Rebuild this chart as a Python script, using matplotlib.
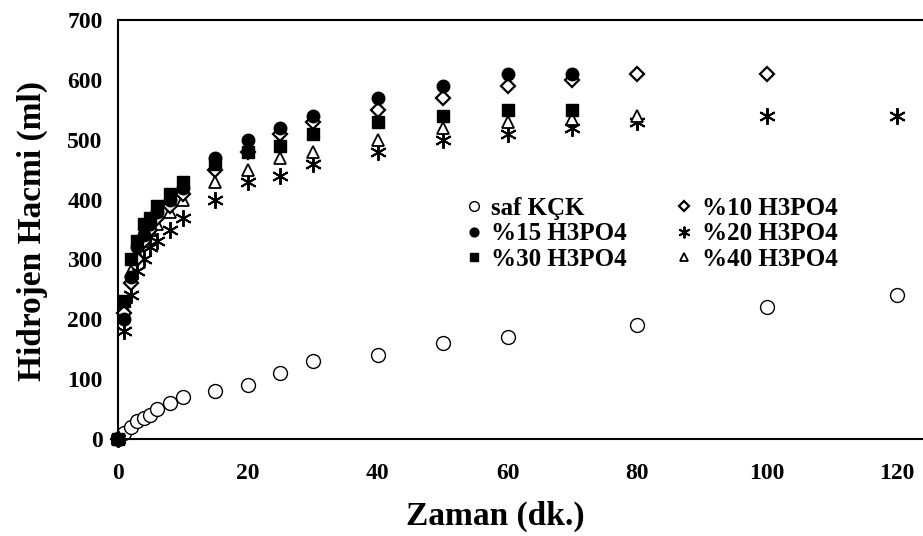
import matplotlib.pyplot as plt

plt.rcParams['font.family'] = ['Liberation Serif', 'DejaVu Serif']
plt.rcParams['font.weight'] = 'bold'

# degerler
zaman_saf = [0, 1, 2, 3, 4, 5, 6, 8, 10, 15, 20, 25, 30, 40, 50, 60, 80, 100, 120]
saf_kck = [0, 10, 20, 30, 35, 40, 50, 60, 70, 80, 90, 110, 130, 140, 160, 170, 190, 220, 240]

zaman_10 = [0, 1, 2, 3, 4, 5, 6, 8, 10, 15, 20, 25, 30, 40, 50, 60, 70, 80, 100]
h3po4_10 = [0, 210, 260, 300, 330, 350, 370, 390, 410, 450, 480, 510, 530, 550, 570, 590, 600, 610, 610]

zaman_15 = [0, 1, 2, 3, 4, 5, 6, 8, 10, 15, 20, 25, 30, 40, 50, 60, 70]
h3po4_15 = [0, 200, 270, 320, 340, 360, 380, 400, 420, 470, 500, 520, 540, 570, 590, 610, 610]

zaman_20 = [0, 1, 2, 3, 4, 5, 6, 8, 10, 15, 20, 25, 30, 40, 50, 60, 70, 80, 100, 120]
h3po4_20 = [0, 180, 240, 280, 300, 320, 330, 350, 370, 400, 430, 440, 460, 480, 500, 510, 520, 530, 540, 540]

zaman_30 = [0, 1, 2, 3, 4, 5, 6, 8, 10, 15, 20, 25, 30, 40, 50, 60, 70]
h3po4_30 = [0, 230, 300, 330, 360, 370, 390, 410, 430, 460, 480, 490, 510, 530, 540, 550, 550]

zaman_40 = [0, 1, 2, 3, 4, 5, 6, 8, 10, 15, 20, 25, 30, 40, 50, 60, 70, 80]
h3po4_40 = [0, 220, 280, 310, 330, 350, 360, 380, 400, 430, 450, 470, 480, 500, 520, 530, 535, 540]

fig = plt.figure(figsize=(9.23, 5.36), dpi=100)
ax = fig.add_axes([118 / 923, 97 / 536, 805 / 923, 419 / 536])

p_saf, = ax.plot(zaman_saf, saf_kck, 'o', ms=10, mfc='white', mec='black', mew=1.0,
                 linestyle='none', label='saf KÇK', clip_on=False)
p20, = ax.plot(zaman_20, h3po4_20, marker=(6, 2, 0), ms=12, color='black', mew=1.4,
               linestyle='none', label='%20 H3PO4', clip_on=False)
p40, = ax.plot(zaman_40, h3po4_40, '^', ms=9, mfc='white', mec='black', mew=1.3,
               linestyle='none', label='%40 H3PO4', clip_on=False)
p10, = ax.plot(zaman_10, h3po4_10, 'D', ms=7.5, mfc='white', mec='black', mew=1.6,
               linestyle='none', label='%10 H3PO4', clip_on=False)
p30, = ax.plot(zaman_30, h3po4_30, 's', ms=8.5, color='black',
               linestyle='none', label='%30 H3PO4', clip_on=False)
p15, = ax.plot(zaman_15, h3po4_15, 'o', ms=9, color='black',
               linestyle='none', label='%15 H3PO4', clip_on=False)

ax.set_xlim(0, 124)
ax.set_ylim(0, 700)
ax.set_xticks([0, 20, 40, 60, 80, 100, 120])
ax.set_yticks(range(0, 701, 100))
ax.tick_params(length=0, labelsize=17)
ax.tick_params(axis='x', pad=17)
ax.tick_params(axis='y', pad=11)

for s in ['left', 'bottom', 'top']:
    ax.spines[s].set_linewidth(1.5)
ax.spines['right'].set_visible(False)

fig.text(495 / 923, 1 - 516 / 536, 'Zaman (dk.)', fontsize=24, fontweight='bold',
         ha='center', va='center')
fig.text(32 / 923, 1 - 231 / 536, 'Hidrojen Hacmi (ml)', fontsize=24, fontweight='bold',
         ha='center', va='center', rotation=90)

ax.legend(handles=[p_saf, p15, p30, p10, p20, p40], ncol=2, frameon=False,
          loc='upper left', bbox_to_anchor=(466 / 923, 1 - 197 / 536),
          bbox_transform=fig.transFigure, prop={'size': 18, 'weight': 'bold'},
          markerscale=0.7, handlelength=0.6, handletextpad=0.4,
          columnspacing=2.0, labelspacing=0.1, borderpad=0, borderaxespad=0)

fig.savefig('out.png', dpi=100)
